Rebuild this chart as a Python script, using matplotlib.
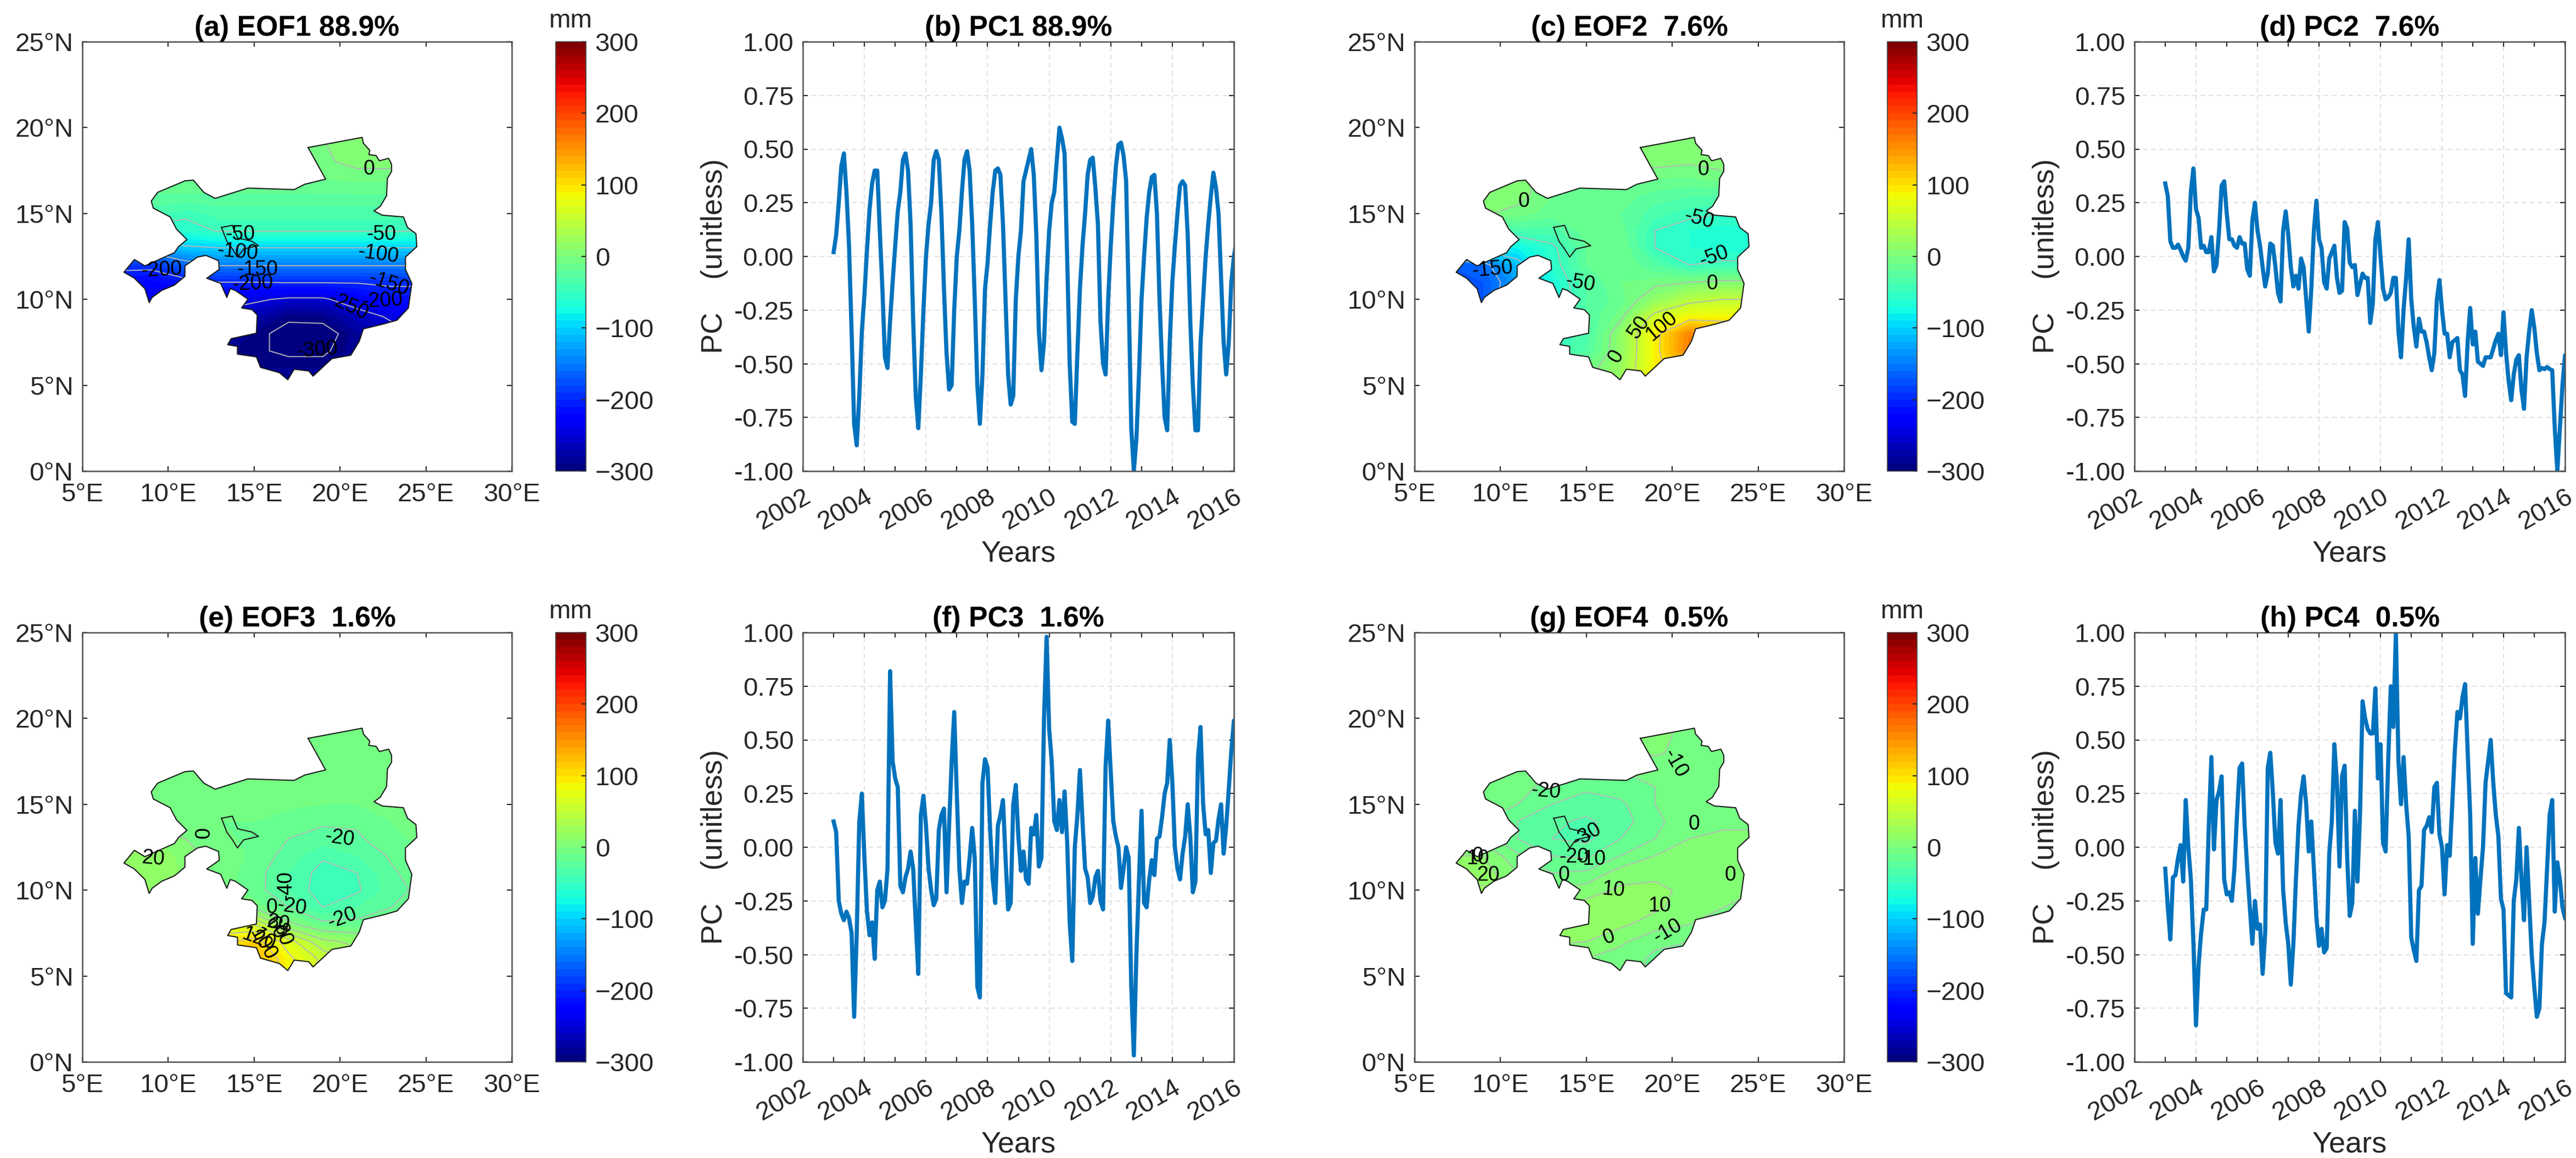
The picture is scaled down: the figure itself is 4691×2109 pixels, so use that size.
import numpy as np
import matplotlib
matplotlib.use('Agg')
import matplotlib.pyplot as plt
from matplotlib.patches import PathPatch
from matplotlib.path import Path
from matplotlib.cm import ScalarMappable
from matplotlib.colors import Normalize

plt.rcParams['font.family'] = ['Liberation Sans', 'DejaVu Sans']

# ---------------- DATA ----------------
months_start = 2003.0
pc1 = [.02,.10,.25,.42,.48,.30,.05,-.35,-.78,-.88,-.65,-.35,
 -.18,.03,.22,.34,.40,.40,.12,-.15,-.47,-.52,-.30,-.12,
 .05,.21,.30,.45,.48,.40,.15,-.30,-.65,-.80,-.55,-.25,
 .0,.15,.25,.45,.49,.45,.20,-.15,-.45,-.62,-.60,-.25,
 .0,.12,.30,.45,.49,.40,.15,-.20,-.60,-.78,-.55,-.15,
 -.03,.15,.30,.40,.41,.38,.15,-.20,-.55,-.69,-.65,-.20,
 .0,.12,.35,.40,.45,.50,.38,.10,-.35,-.53,-.40,-.10,
 .12,.25,.30,.45,.60,.55,.48,.0,-.50,-.77,-.78,-.45,
 -.15,.05,.20,.38,.45,.46,.32,.15,-.30,-.50,-.55,-.20,
 .05,.25,.42,.52,.53,.47,.35,-.20,-.80,-1.0,-.85,-.55,
 -.20,.0,.18,.30,.37,.38,.20,-.20,-.50,-.75,-.81,-.40,
 -.12,.05,.20,.33,.35,.33,.10,-.30,-.60,-.81,-.81,-.40,
 -.20,.0,.15,.28,.39,.32,.20,-.10,-.40,-.55,-.40,-.12,
 -.0,.07]
pc2 = [.34,.28,.07,.04,.04,.055,.03,.0,-.02,.04,.30,.41,
 .22,.18,.04,.05,.02,.02,.09,-.07,-.04,.12,.33,.35,
 .20,.08,.08,.05,.04,.09,.06,.06,-.06,-.09,.17,.25,
 .12,.05,-.05,-.14,-.08,.06,.05,-.05,-.17,-.21,.12,.21,
 .10,-.05,-.14,-.09,-.15,-.01,-.05,-.20,-.35,-.15,.12,.26,
 .08,.04,-.12,-.15,-.01,.02,.05,-.10,-.17,-.16,.16,.13,
 -.03,-.05,-.04,-.18,-.13,-.08,-.10,-.10,-.31,-.22,.08,.16,
 .0,-.15,-.20,-.19,-.17,-.10,-.10,-.35,-.47,-.25,-.10,.08,
 -.20,-.33,-.42,-.29,-.35,-.35,-.40,-.47,-.53,-.45,-.20,-.11,
 -.25,-.36,-.36,-.47,-.40,-.39,-.38,-.53,-.55,-.65,-.40,-.24,
 -.41,-.35,-.49,-.50,-.51,-.47,-.47,-.47,-.43,-.39,-.36,-.46,
 -.26,-.45,-.58,-.67,-.55,-.48,-.46,-.62,-.71,-.47,-.35,-.25,
 -.33,-.45,-.53,-.52,-.525,-.515,-.525,-.53,-.80,-1.0,-.80,-.60,
 -.46,-.47]
pc3 = [.12,.07,-.25,-.31,-.34,-.30,-.33,-.40,-.79,-.40,.12,.25,
 -.05,-.30,-.41,-.35,-.52,-.20,-.16,-.28,-.25,-.10,.82,.40,
 .32,.28,-.18,-.21,-.14,-.10,-.02,-.10,-.35,-.59,.15,.24,
 .10,-.10,-.20,-.27,-.24,.08,.15,.18,-.21,.10,.40,.63,
 .25,-.10,-.26,-.16,-.17,-.05,.09,-.05,-.65,-.70,.30,.41,
 .37,.08,-.15,-.26,.10,.15,.22,-.05,-.29,-.26,.20,.29,
 .05,-.11,-.02,-.15,-.17,.09,.06,.15,-.09,-.05,.60,.98,
 .55,.40,.12,.08,.22,.07,.26,.03,-.35,-.53,.0,.15,
 .36,.12,-.10,-.14,-.26,-.23,-.14,-.11,-.25,-.29,.38,.59,
 .35,.12,.05,.0,-.19,-.10,.0,-.05,-.65,-.97,-.50,-.15,
 .17,-.26,-.28,-.15,-.06,-.13,.04,.05,.14,.25,.30,.50,
 .30,.0,-.10,-.15,-.03,.05,.20,.05,-.21,-.16,.42,.56,
 .20,.06,.08,-.12,.02,.03,.13,.20,-.03,.10,.27,.45,
 .59,.45]
pc4 = [-.10,-.28,-.43,-.14,-.13,-.05,.01,-.16,.22,.0,-.15,-.45,
 -.83,-.55,-.40,-.29,-.29,.10,.42,-.01,.22,.26,.33,-.15,
 -.22,-.21,-.25,-.10,.15,.37,.39,.10,-.10,-.28,-.45,-.25,
 -.38,-.36,-.59,-.40,.37,.44,.25,.02,-.03,.22,-.20,-.35,
 -.45,-.64,-.45,-.15,.10,.25,.33,.20,-.02,.12,-.10,-.33,
 -.46,-.38,-.49,-.47,-.03,.12,.48,.30,-.09,.33,.38,-.05,
 -.32,-.26,.17,-.16,.15,.68,.60,.55,.53,.53,.74,.32,
 .48,.02,-.02,.40,.75,.56,1.0,.40,.20,.42,.20,.05,
 -.42,-.48,-.53,-.20,-.18,.08,.10,.14,.07,.28,.30,.06,
 -.0,-.22,.01,-.04,.20,.45,.63,.60,.70,.76,.45,.15,
 -.45,-.05,-.31,-.15,.0,.30,.40,.50,.30,.15,.05,-.24,
 -.29,-.68,-.69,-.70,-.25,-.15,.09,-.15,-.34,.0,-.25,-.50,
 -.65,-.79,-.75,-.45,-.35,-.10,.15,.22,-.30,-.07,-.15,-.28,
 -.33,-.35]

year_ticks = [2002, 2004, 2006, 2008, 2010, 2012, 2014, 2016]
odd_years = [2003, 2005, 2007, 2009, 2011, 2013, 2015]
pc_ticks = [-1.0, -.75, -.5, -.25, 0, .25, .5, .75, 1.0]
pc_ticklabels = ['-1.00', '-0.75', '-0.50', '-0.25', '0.00', '0.25', '0.50', '0.75', '1.00']
lon_ticks = [5, 10, 15, 20, 25, 30]
lon_labels = ['5°E', '10°E', '15°E', '20°E', '25°E', '30°E']
lat_ticks = [0, 5, 10, 15, 20, 25]
lat_labels = ['0°N', '5°N', '10°N', '15°N', '20°N', '25°N']
cbar_ticks = [-300, -200, -100, 0, 100, 200, 300]

outline_lon = [18.14,21.29,21.36,21.73,21.68,22.10,22.29,22.83,23.0,23.0,22.76,22.71,22.34,21.98,22.46,23.69,23.93,24.42,24.47,23.81,23.81,24.18,23.98,23.32,22.59,21.36,21.12,20.63,19.53,18.43,18.18,17.33,16.96,16.47,15.37,15.13,14.03,14.03,13.46,13.66,15.13,15.18,14.88,14.27,14.64,13.90,13.61,13.41,13.05,12.24,12.97,12.93,12.19,11.70,10.97,10.97,10.36,9.62,9.06,8.89,8.64,8.03,7.42,8.03,8.64,10.36,10.60,11.09,10.48,10.11,9.13,9.01,9.38,10.97,11.46,12.07,12.73,14.64,16.10,17.33,17.94,19.16]
outline_lat = [18.84,19.43,19.09,18.68,18.43,18.37,18.07,18.21,17.86,17.45,17.05,16.03,15.41,15.15,14.90,14.80,14.19,13.82,13.07,12.46,11.74,10.93,9.50,8.79,8.58,8.28,7.56,6.75,6.55,5.53,5.83,5.93,5.32,5.73,6.04,6.65,6.81,7.26,7.36,7.71,8.03,9.09,9.40,9.50,10.01,10.52,10.62,10.11,10.93,11.23,11.74,12.25,12.56,12.46,11.95,11.34,10.83,10.52,10.11,9.81,10.62,11.23,11.58,12.32,11.95,12.72,13.07,13.48,14.09,14.80,15.31,15.72,16.23,16.90,16.94,16.23,15.88,16.48,16.43,16.39,16.70,17.0]
lake_lon = [13.10,13.73,14.03,14.88,15.25,14.39,14.03,13.71,13.41]
lake_lat = [14.19,14.31,13.58,13.38,13.13,12.93,12.46,12.97,13.38]

grid_lon = [7, 9, 11, 13, 15, 17, 19, 21, 23, 25]
grid_lat = [20, 19, 18, 17, 16, 15, 14, 13, 12, 11, 10, 9, 8, 7, 6, 5]
eof1 = [[15,15,15,15,15,15,15,15,15,15],
 [5,5,5,5,5,-3,-1,8,10,10],
 [-5,-5,-5,-5,-5,-5,-3,5,5,5],
 [-12,-12,-12,-12,-12,-12,-10,-8,-8,-8],
 [-22,-22,-22,-22,-22,-22,-22,-22,-22,-22],
 [-36,-36,-45,-36,-36,-36,-36,-36,-36,-36],
 [-60,-60,-60,-48,-48,-48,-48,-48,-48,-48],
 [-130,-130,-105,-100,-100,-100,-100,-100,-100,-100],
 [-190,-190,-165,-148,-148,-148,-148,-148,-148,-148],
 [-220,-225,-210,-200,-200,-198,-198,-198,-195,-195],
 [-235,-240,-240,-235,-245,-255,-255,-232,-215,-215],
 [-240,-240,-250,-260,-270,-295,-290,-265,-245,-240],
 [-260,-260,-270,-280,-292,-310,-315,-282,-262,-260],
 [-280,-280,-280,-285,-296,-305,-305,-282,-270,-270],
 [-285,-285,-285,-285,-290,-290,-290,-285,-280,-280],
 [-280,-280,-280,-280,-285,-285,-285,-280,-280,-280]]
eof2 = [[10,10,10,10,10,10,10,10,10,10],
 [10,10,10,10,10,10,10,8,8,8],
 [8,8,8,8,8,8,5,2,5,5],
 [5,5,5,-5,-8,-8,-10,-12,-5,-5],
 [5,5,5,-10,-15,-15,-25,-30,-30,-30],
 [2,2,-5,-15,-15,-20,-35,-45,-50,-50],
 [-40,-40,-35,-35,-15,-15,-50,-60,-65,-65],
 [-90,-90,-80,-55,-20,-10,-50,-60,-65,-65],
 [-170,-160,-110,-60,-20,-10,-30,-50,-45,-45],
 [-170,-170,-130,-70,-30,-10,-5,0,5,5],
 [-170,-170,-120,-75,-30,-15,15,40,50,50],
 [-170,-165,-100,-60,-30,-5,60,85,85,85],
 [-100,-100,-80,-50,-35,15,90,160,140,140],
 [-60,-60,-55,-50,-30,15,90,165,130,130],
 [-10,-10,-10,-10,-10,20,90,130,110,110],
 [-5,-5,-5,-5,-5,20,90,110,100,100]]
eof3 = [[-8,-8,-8,-8,-8,-8,-8,-8,-8,-8],
 [-8,-8,-8,-8,-8,-8,-8,-8,-8,-8],
 [-8,-8,-8,-8,-8,-8,-8,-8,-8,-8],
 [-8,-8,-8,-8,-8,-8,-8,-8,-8,-8],
 [-8,-8,-8,-8,-8,-8,-8,-8,-8,-8],
 [-8,-8,-8,-8,-8,-8,-10,-10,-8,-8],
 [-5,-5,-8,-10,-10,-15,-18,-18,-10,-8],
 [10,10,0,-8,-12,-20,-25,-22,-12,-8],
 [15,20,5,-5,-12,-25,-38,-30,-18,-10],
 [20,20,8,-5,-15,-30,-45,-40,-22,-12],
 [20,18,8,-5,-15,-30,-47,-42,-25,-15],
 [15,15,10,0,-5,-20,-40,-30,-20,-15],
 [50,50,50,60,60,5,-15,-15,-15,-15],
 [95,95,95,95,110,70,25,15,15,15],
 [125,125,125,125,135,85,55,30,25,25],
 [125,125,125,125,135,85,55,35,25,25]]
eof4 = [[5,5,5,5,5,5,5,-5,-5,-5],
 [5,5,5,5,5,5,5,-5,-5,-5],
 [-5,-5,-5,-5,-5,-5,2,-5,-5,-5],
 [-5,-5,-5,-10,-10,-10,-8,-10,-8,-8],
 [-5,-5,-5,-15,-18,-15,-10,-8,-8,-8],
 [-5,-5,-10,-20,-25,-22,-10,-5,-5,-5],
 [-10,-10,-20,-28,-32,-25,-12,-5,-3,-3],
 [-5,-5,-20,-30,-33,-20,-10,0,3,3],
 [10,10,-8,-20,-22,-10,0,8,5,5],
 [15,15,0,-10,-8,5,8,10,5,3],
 [22,22,5,0,5,12,12,8,3,0],
 [20,20,5,5,15,15,12,5,0,-3],
 [5,5,5,10,15,12,5,0,-3,-5],
 [5,5,5,12,10,2,-8,-10,-10,-10],
 [0,0,0,0,0,-5,-12,-12,-12,-12],
 [0,0,0,0,0,-5,-12,-12,-12,-12]]
levels1 = [-300,-250,-200,-150,-100,-50,0]
levels2 = [-150,-100,-50,0,50,100]
levels3 = [-40,-20,0,20,40,60,80,100]
levels4 = [-30,-20,-10,0,10,20]

# label text, lon, lat, rotation
labels1 = [('0',21.7,17.57,0),('-50',14.2,13.78,0),('-100',14.03,12.76,-5),('-150',15.2,11.74,0),
 ('-200',9.62,11.7,3),('-200',14.93,10.89,3),('-50',22.42,13.78,0),('-100',22.22,12.62,-8),
 ('-150',22.83,10.89,-18),('-200',22.46,9.91,3),('-250',20.5,9.6,-25),('-300',18.67,7.05,5)]
labels2 = [('0',21.8,17.55,0),('0',11.36,15.7,0),('-50',21.56,14.67,-15),('-50',22.44,12.5,20),
 ('0',22.32,10.9,0),('-150',9.52,11.73,5),('-50',14.66,10.95,-10),('50',18.04,8.38,55),
 ('100',19.38,8.43,40),('0',16.74,6.67,60)]
labels3 = [('0',12.07,13.33,90),('20',9.13,11.83,-5),('-20',19.97,13.0,-8),('-40',16.84,10.27,90),
 ('0',16.03,8.98,0),('-20',17.2,9.03,-8),('-20',20.14,8.37,20),('20',16.4,8.07,-10),
 ('60',16.23,7.8,-60),('80',16.64,7.42,-70),('100',15.5,6.87,-60),('120',15.25,7.15,-20)]
labels4 = [('-10',20.17,17.37,-60),('-20',12.66,15.74,-5),('0',21.27,13.85,0),('-30',15.03,13.2,30),
 ('-20',14.3,11.92,0),('-10',15.27,11.79,0),('0',13.68,10.87,0),('10',8.67,11.83,0),('0',8.67,12.0,0),
 ('20',9.28,10.87,0),('10',16.57,10.02,-5),('10',19.26,9.08,0),('0',23.39,10.86,0),
 ('-10',19.72,7.6,30),('0',16.3,7.27,20)]

titles_map = ['(a) EOF1 88.9%', '(c) EOF2  7.6%', '(e) EOF3  1.6%', '(g) EOF4  0.5%']
titles_pc = ['(b) PC1 88.9%', '(d) PC2  7.6%', '(f) PC3  1.6%', '(h) PC4  0.5%']

# ---------------- LAYOUT ----------------
W, H = 4691, 2109
DPI = 300
fig = plt.figure(figsize=(W / DPI, H / DPI), dpi=DPI, facecolor='white')
DARK = '#262626'
FS = 11.4
BLUE = '#0072BD'
cmap = plt.get_cmap('jet', 60)
norm = Normalize(-300, 300)
fill_levels = np.linspace(-300, 300, 61)


def rect(x0, x1, y0, y1):
    return [x0 / W, 1 - y1 / H, (x1 - x0) / W, (y1 - y0) / H]


def style(ax):
    for s in ax.spines.values():
        s.set_linewidth(0.6)
        s.set_color('#505050')
    ax.tick_params(which='both', direction='in', top=True, right=True, length=2.2, width=0.5,
                   color=DARK, labelcolor=DARK, labelsize=FS)


def draw_map(x0, x1, y0, y1, cb0, cb1, field, levels, labels, title):
    ax = fig.add_axes(rect(x0, x1, y0, y1))
    style(ax)
    ax.tick_params(axis='x', pad=5)
    ax.tick_params(axis='y', pad=4)
    ax.set_xlim(5, 30)
    ax.set_ylim(0, 25)
    ax.set_xticks(lon_ticks, lon_labels)
    ax.set_yticks(lat_ticks, lat_labels)
    ax.set_title(title, fontsize=12.4, fontweight='bold', pad=2, color='black')
    X, Y = np.meshgrid(grid_lon, grid_lat)
    Z = np.array(field, dtype=float)
    clip = PathPatch(Path(np.column_stack([outline_lon + outline_lon[:1], outline_lat + outline_lat[:1]])),
                     transform=ax.transData, facecolor='none', edgecolor='none')
    ax.add_patch(clip)
    cf = ax.contourf(X, Y, Z, levels=fill_levels, cmap=cmap, norm=norm, extend='both')
    cf.set_clip_path(clip)
    cl = ax.contour(X, Y, Z, levels=levels, colors='#b8b8b8', linewidths=0.45, negative_linestyles='solid')
    cl.set_clip_path(clip)
    ax.plot(outline_lon + outline_lon[:1], outline_lat + outline_lat[:1], color='#1a1a1a', lw=0.5)
    ax.plot(lake_lon + lake_lon[:1], lake_lat + lake_lat[:1], color='#1a1a1a', lw=0.5)
    for txt, lo, la, rot in labels:
        ax.text(lo, la, txt, fontsize=9, rotation=rot, ha='center', va='center', color='black')
    cax = fig.add_axes(rect(cb0, cb1, y0, y1))
    cb = fig.colorbar(ScalarMappable(norm=norm, cmap=cmap), cax=cax, ticks=cbar_ticks)
    cb.outline.set_linewidth(0.4)
    cb.outline.set_edgecolor('#404040')
    cax.tick_params(direction='in', length=2, width=0.5, color=DARK, labelcolor=DARK, labelsize=FS, pad=4)
    cax.text(0.5, 1.02, 'mm', transform=cax.transAxes, ha='center', va='bottom', fontsize=FS, color=DARK)


def draw_pc(x0, x1, y0, y1, values, title):
    ax = fig.add_axes(rect(x0, x1, y0, y1))
    style(ax)
    x = months_start + np.arange(len(values)) / 12.0
    ax.set_axisbelow(True)
    ax.grid(True, which='major', linestyle=(0, (5, 4)), linewidth=0.4, color='#dcdcdc')
    ax.plot(x, values, color=BLUE, lw=1.8, solid_joinstyle='round')
    ax.set_xlim(2002, 2016)
    ax.set_ylim(-1, 1)
    ax.set_xticks(year_ticks)
    ax.set_xticks(odd_years, minor=True)
    ax.set_yticks(pc_ticks, pc_ticklabels)
    ax.tick_params(axis='y', pad=4)
    ax.tick_params(axis='x', which='major', pad=6)
    for lab in ax.get_xticklabels():
        lab.set_rotation(30)
        lab.set_rotation_mode('anchor')
        lab.set_ha('right')
        lab.set_va('top')
    ax.set_title(title, fontsize=12.4, fontweight='bold', pad=2, color='black')
    ax.set_xlabel('Years', fontsize=13, color=DARK, va='center')
    ax.xaxis.set_label_coords(0.5, -0.192)
    ax.set_ylabel('PC    (unitless)', fontsize=13, color=DARK, va='center')
    ax.yaxis.set_label_coords(-0.205, 0.5)


rows = [(76, 858), (1152, 1934)]
draw_map(150, 932, *rows[0], 1012, 1067, eof1, levels1, labels1, titles_map[0])
draw_pc(1462, 2247, *rows[0], pc1, titles_pc[0])
draw_map(2576, 3358, *rows[0], 3437, 3491, eof2, levels2, labels2, titles_map[1])
draw_pc(3887, 4671, *rows[0], pc2, titles_pc[1])
draw_map(150, 932, *rows[1], 1012, 1067, eof3, levels3, labels3, titles_map[2])
draw_pc(1462, 2247, *rows[1], pc3, titles_pc[2])
draw_map(2576, 3358, *rows[1], 3437, 3491, eof4, levels4, labels4, titles_map[3])
draw_pc(3887, 4671, *rows[1], pc4, titles_pc[3])

fig.savefig('out.png', dpi=DPI)
